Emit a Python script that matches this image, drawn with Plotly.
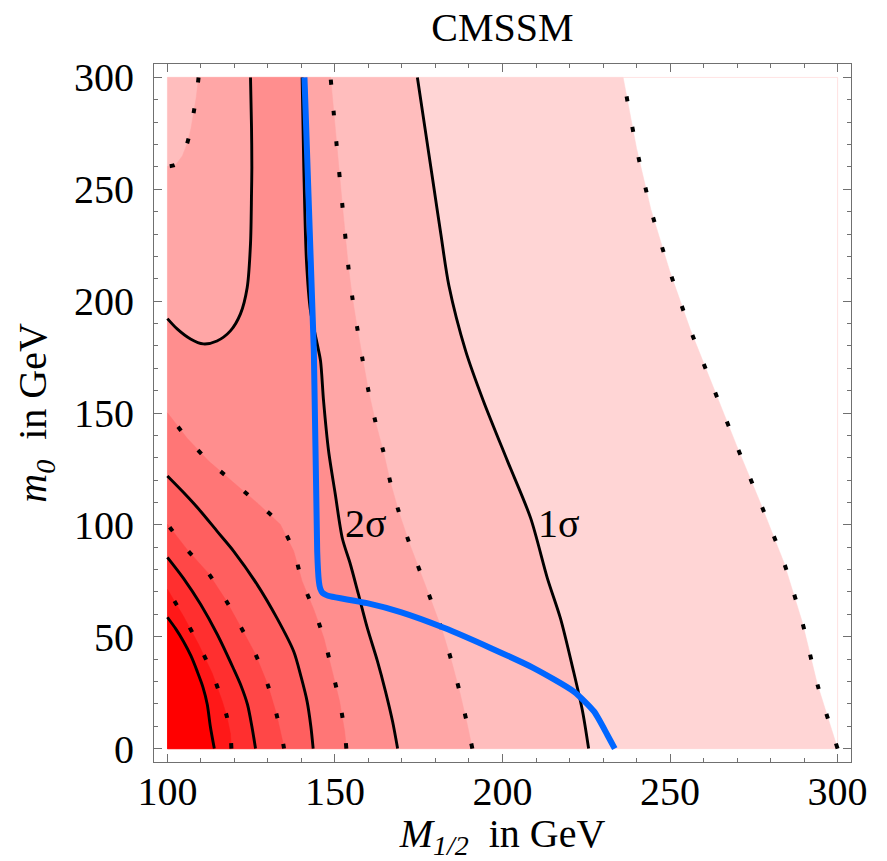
import plotly.graph_objects as go

# ---------------- data ----------------
M_MIN, M_MAX = 100, 300      # M_1/2 range of the computed region (GeV)
M0_MIN, M0_MAX = 0, 300      # m_0 range of the computed region (GeV)

x_ticks = [100, 150, 200, 250, 300]
y_ticks = [0, 50, 100, 150, 200, 250, 300]

# contour lines, numbered from the bottom-left (lowest level) outward
c1_M = [114.0, 112.8, 111.9, 110.6, 108.9, 107.0, 104.8, 102.5, 100.0]
c1_m0 = [0, 10, 19.7, 27.5, 34.5, 41.5, 47.9, 53.5, 58.7]

c2_M = [119.1, 118.8, 117.8, 116.4, 113.4, 109.3, 104.8, 100.0]
c2_m0 = [0, 6.7, 14.0, 21.0, 33.6, 46.6, 59.1, 71.2]

c3_M = [126.3, 125.2, 123.9, 122.0, 119.7, 114.9, 109.9, 104.8, 100.0]
c3_m0 = [0, 10, 19.7, 28.0, 35.8, 51.0, 64.5, 76.1, 85.5]

c4_M = [134.8, 134.6, 132.5, 129.9, 126.3, 121.8, 117.3, 112.2, 106.0, 100.0]
c4_m0 = [0, 1.8, 15.7, 28.7, 42.1, 54.6, 66.7, 78.4, 88.7, 100.3]

c5_M = [143.5, 142.8, 141.7, 139.9, 137.7, 132.7, 126.8, 119.8, 114.8, 109.9, 104.9, 100.0]
c5_m0 = [0, 10, 21.0, 32.0, 43.4, 58.3, 73.3, 88.2, 97.2, 106.1, 114.3, 121.8]

c6_M = [153.4, 152.9, 151.4, 149.2, 146.7, 143.7, 140.2, 137.7, 133.7, 126.8, 119.3, 112.3, 105.9, 100.0]
c6_m0 = [0, 7.6, 21.0, 34.5, 49.4, 62.1, 74.8, 88.2, 100.2, 109.8, 119.6, 128.5, 138.7, 150.1]

c7a_M = [168.7, 167.2, 165.1, 162.7, 159.7, 157.0, 154.6, 152.2, 150.1, 148.1, 146.6, 145.7, 144.7, 142.7, 141.5, 140.7, 140.2]
c7a_m0 = [0, 12.1, 25.5, 39.0, 53.7, 69.0, 82.4, 94.0, 113.7, 133.0, 155.4, 173.3, 180.9, 195.7, 218.0, 260.0, 300]

c7b_M = [124.8, 125.1, 125.2, 125.1, 124.8, 123.8, 121.8, 118.8, 114.8, 110.7, 106.9, 102.9, 100.0]
c7b_m0 = [300, 277.6, 260.0, 248.0, 225.7, 206.0, 194.3, 186.7, 182.2, 180.9, 183.1, 187.6, 192.2]

c8a_M = [191.0, 189.3, 187.2, 184.8, 182.1, 178.8, 175.5, 172.2, 169.0, 166.6, 164.5, 162.1, 160.0, 158.2, 156.7, 155.2, 154.0, 152.2, 150.4, 148.7]
c8a_m0 = [0, 12.1, 25.5, 39.0, 52.4, 65.8, 78.8, 91.8, 106.1, 118.7, 132.5, 146.0, 159.9, 174.2, 187.6, 201.5, 215.4, 243.1, 271.4, 300]

c8b_M = [109.3, 108.6, 107.8, 107.0, 105.9, 104.5, 102.5, 100.0]
c8b_m0 = [300, 291, 284, 277, 270.5, 265, 261, 260.2]

c9_M = [225.7, 223.9, 221.2, 217.3, 213.4, 208.4, 201.5, 194.3, 189.0, 184.0, 181.6, 179.2, 176.9, 174.6]
c9_m0 = [0, 16.6, 34.5, 58.2, 76.1, 103.0, 128.5, 155.4, 177.8, 207.0, 230.0, 254.0, 277.0, 300]

c10_M = [300.0, 293.9, 289.5, 284.0, 277.1, 269.9, 262.9, 256.0, 249.8, 244.3, 240.0, 236.0]
c10_m0 = [0, 29.1, 56.3, 83.1, 109.3, 135.3, 161.3, 187.5, 213.9, 240.9, 268.3, 300]

# blue boundary curve
blue_M = [140.9, 143.7, 144.7, 145.2, 145.6, 146.3, 147.3, 148.7, 159.6, 169.6, 182.5, 196.4, 209.3, 221.3, 227.3, 231.3, 233.5]
blue_m0 = [300, 177.8, 88.2, 74.8, 71.5, 69.6, 68.7, 68.0, 65.0, 61.0, 54.0, 45.0, 36.0, 25.5, 16.6, 6.1, 0]

# band colours, darkest (lowest) to lightest
band_colors = ["#FF0000", "#FF1818", "#FF2F2F", "#FF4747", "#FF5F5F",
               "#FF7676", "#FF8E8E", "#FFA6A6", "#FFBDBD", "#FFD5D5"]

labels_text = ["2σ", "1σ"]
labels_M = [159.4, 217.0]
labels_m0 = [100.7, 100.7]

# ---------------- figure ----------------
fig = go.Figure()

# polygons of the region below each level (level k filled with band k-1)
polys = {
    1: ([M_MIN] + c1_M, [M0_MIN] + c1_m0),
    2: ([M_MIN] + c2_M, [M0_MIN] + c2_m0),
    3: ([M_MIN] + c3_M, [M0_MIN] + c3_m0),
    4: ([M_MIN] + c4_M, [M0_MIN] + c4_m0),
    5: ([M_MIN] + c5_M, [M0_MIN] + c5_m0),
    6: ([M_MIN] + c6_M, [M0_MIN] + c6_m0),
    7: ([M_MIN] + c7a_M + c7b_M, [M0_MIN] + c7a_m0 + c7b_m0),
    8: ([M_MIN] + c8a_M + c8b_M, [M0_MIN] + c8a_m0 + c8b_m0),
    9: ([M_MIN] + c9_M + [M_MIN], [M0_MIN] + c9_m0 + [M0_MAX]),
    10: ([M_MIN] + c10_M + [M_MIN], [M0_MIN] + c10_m0 + [M0_MAX]),
}
for k in range(10, 0, -1):
    xs, ys = polys[k]
    col = band_colors[k - 1]
    fig.add_trace(go.Scatter(x=xs, y=ys, mode="lines", fill="toself",
                             fillcolor=col, line=dict(color=col, width=0.5),
                             hoverinfo="skip", showlegend=False))

solid = dict(color="black", width=2.9, shape="spline", smoothing=0.8)
dotted = dict(color="black", width=4, dash="5px,26px", shape="spline", smoothing=0.8)

lines = [
    (c1_M, c1_m0, solid), (c2_M, c2_m0, dotted), (c3_M, c3_m0, solid),
    (c4_M, c4_m0, dotted), (c5_M, c5_m0, solid), (c6_M, c6_m0, dotted),
    (c7a_M, c7a_m0, solid), (c7b_M, c7b_m0, solid),
    (c8a_M, c8a_m0, dotted), (c8b_M, c8b_m0, dotted),
    (c9_M, c9_m0, solid), (c10_M, c10_m0, dotted),
]
for xs, ys, st in lines:
    fig.add_trace(go.Scatter(x=xs, y=ys, mode="lines", line=st,
                             hoverinfo="skip", showlegend=False))

fig.add_trace(go.Scatter(x=blue_M, y=blue_m0, mode="lines",
                         line=dict(color="#0066FF", width=6, shape="spline", smoothing=0.6),
                         hoverinfo="skip", showlegend=False))

serif = "Liberation Serif"
FS = 40

for t, xm, ym in zip(labels_text, labels_M, labels_m0):
    fig.add_annotation(x=xm, y=ym, text=t, showarrow=False,
                       font=dict(family=serif, size=FS, color="black"))

fig.add_shape(type="rect", x0=M_MIN, x1=M_MAX, y0=M0_MIN, y1=M0_MAX,
              line=dict(color="rgba(255,190,190,0.45)", width=1), layer="below")

axis_common = dict(
    showgrid=False, zeroline=False, showline=True, linecolor="#707070", linewidth=1.2,
    mirror="allticks", ticks="inside", ticklen=8, tickwidth=1, tickcolor="#707070",
    tickfont=dict(family=serif, size=FS, color="black"), automargin=False,
    minor=dict(ticks="inside", ticklen=4, tickwidth=1, tickcolor="#707070", dtick=10, showgrid=False),
)

# the page places the figure 8 px from the window's top-left corner
W, H = 879, 853
fig.update_layout(
    width=W, height=H,
    margin=dict(l=146, r=36, t=56, b=99),
    paper_bgcolor="white", plot_bgcolor="white",
    title=dict(text="CMSSM", x=(146 + (W - 36)) / 2 / W, xanchor="center",
               y=1 - 19 / H, yanchor="middle",
               font=dict(family=serif, size=FS, color="black")),
    xaxis=dict(range=[96, 304], tickvals=x_ticks, ticklabelstandoff=-6,
               title=dict(text="<i>M</i><sub><i>1/2</i></sub>\u00a0\u00a0in GeV",
                          font=dict(family=serif, size=FS, color="black"), standoff=10),
               **axis_common),
    yaxis=dict(range=[-6, 306], tickvals=y_ticks, ticklabelstandoff=11,
               title=dict(text="<i>m</i><sub><i>0</i></sub>\u00a0\u00a0in GeV",
                          font=dict(family=serif, size=FS, color="black"), standoff=14),
               **axis_common),
)

fig.write_html("out.html")
